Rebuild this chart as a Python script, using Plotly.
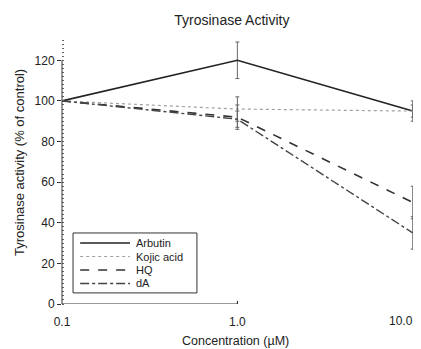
import math
import plotly.graph_objects as go

conc = [0.1, 1.0, 10.0]
arbutin = [100, 120, 95]
arbutin_err = [0, 9, 5]
kojic = [100, 96, 95]
kojic_err = [0, 6, 3]
hq = [100, 92, 50]
hq_err = [0, 6, 8]
da = [100, 91, 35]
da_err = [0, 4, 8]
x_ticks = [0.1, 1.0, 10.0]
x_tick_text = ["0.1", "1.0", "10.0"]
y_ticks = [0, 20, 40, 60, 80, 100, 120]
significant = [("HQ", hq[2]), ("dA", da[2])]

series = [
    ("Arbutin", arbutin, arbutin_err, dict(color="#222222", width=1.6, dash="solid")),
    ("Kojic acid", kojic, kojic_err, dict(color="#a0a0a0", width=1.2, dash="dot")),
    ("HQ", hq, hq_err, dict(color="#333333", width=1.6, dash="dash")),
    ("dA", da, da_err, dict(color="#444444", width=1.4, dash="dashdot")),
]

fig = go.Figure()
for name, y, err, line in series:
    fig.add_trace(go.Scatter(
        x=conc, y=y, name=name, mode="lines", line=line,
        error_y=dict(type="data", array=err, visible=True, color="#666666",
                     thickness=1, width=2),
        cliponaxis=False, showlegend=False,
    ))

font = "Liberation Sans, Arial, sans-serif"
# the page body adds an 8px margin, so the figure is 8px smaller than the window
fig.update_layout(
    width=413, height=341,
    margin=dict(l=54, r=3, t=32, b=45),
    paper_bgcolor="white", plot_bgcolor="white",
    font=dict(family=font, size=12, color="#222222"),
    title=dict(text="Tyrosinase Activity", x=0.542, xanchor="center", y=0.965,
               yanchor="middle", font=dict(size=14, color="#222222")),
    showlegend=False,
)
fig.update_xaxes(type="log", range=[-1, 1.03], tickvals=x_ticks[:2],
                 ticktext=x_tick_text[:2], showgrid=False, zeroline=False,
                 showline=False, ticks="inside", ticklen=3, tickcolor="#333333",
                 ticklabelstandoff=9)
fig.update_yaxes(range=[0, 130], tickvals=y_ticks,
                 showgrid=False, zeroline=False, showline=False,
                 ticks="outside", ticklen=4, tickcolor="#333333",
                 minor=dict(dtick=2, tick0=0, ticks="inside", ticklen=2,
                            tickcolor="#666666"))
# axis titles
fig.add_annotation(x=0.486, y=-0.14, xref="paper", yref="paper",
                   text="Concentration (µM)", showarrow=False,
                   xanchor="center", yanchor="middle", font=dict(size=12.5))
fig.add_annotation(x=-0.118, y=0.538, xref="paper", yref="paper",
                   text="Tyrosinase activity (% of control)", showarrow=False,
                   textangle=-90, xanchor="center", yanchor="middle",
                   font=dict(size=13))
# axis lines
fig.add_shape(type="line", xref="paper", yref="y", x0=0, x1=0, y0=0, y1=max(y_ticks),
              line=dict(color="#333333", width=1))
lx0, lx1 = math.log10(x_ticks[0]), math.log10(x_ticks[-1])
fig.add_shape(type="line", xref="x", yref="y", x0=lx0, x1=lx1, y0=0, y1=0,
              line=dict(color="#333333", width=1))
fig.add_shape(type="line", xref="x", yref="y", x0=lx1, x1=lx1, y0=0, y1=1.5,
              line=dict(color="#333333", width=1))
# last x tick label (placed so it stays inside the picture)
fig.add_annotation(x=lx1, y=0, xref="x", yref="paper", text=x_tick_text[-1],
                   showarrow=False, xanchor="right", yanchor="top", xshift=1,
                   yshift=-9, borderpad=0, font=dict(size=12))
for name, yv in significant:
    fig.add_annotation(x=lx1, y=yv, xref="x", yref="y", text="*", showarrow=False,
                       xanchor="center", xshift=3, yshift=-3, borderpad=0,
                       font=dict(size=13, color="#111111"))

# legend box
fig.add_shape(type="rect", xref="paper", yref="paper", x0=0.031, x1=0.379,
              y0=0.042, y1=0.269, line=dict(color="#333333", width=1),
              fillcolor="white", layer="above")
rows = [0.2311, 0.1799, 0.1288, 0.0777]
for (name, _, _, line), ry in zip(series, rows):
    fig.add_shape(type="line", xref="paper", yref="paper", x0=0.051, x1=0.191,
                  y0=ry, y1=ry, line=line, layer="above")
    fig.add_annotation(x=0.205, y=ry, xref="paper", yref="paper", text=name,
                       showarrow=False, xanchor="left", yanchor="middle",
                       borderpad=0, font=dict(size=11, color="#222222"))
fig.write_html("out.html")
